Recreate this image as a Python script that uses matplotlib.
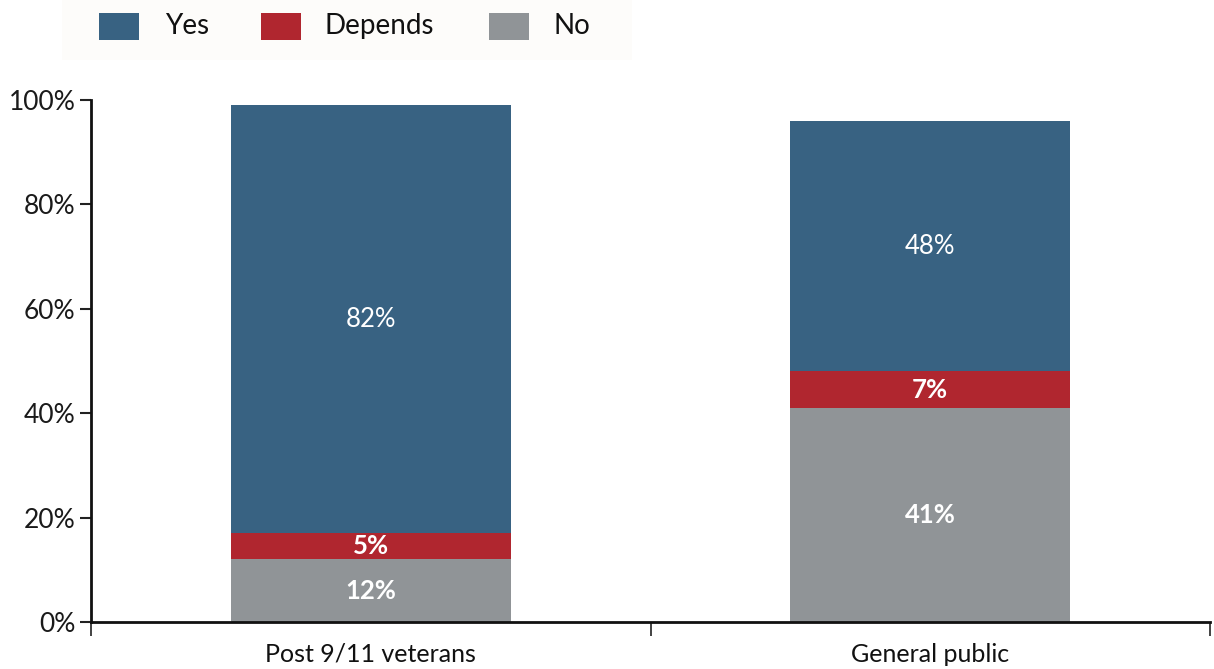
import matplotlib
matplotlib.use("Agg")
import matplotlib.pyplot as plt
from matplotlib.patches import Rectangle

categories = ["Post 9/11 veterans", "General public"]
series_names = ["No", "Depends", "Yes"]
no_vals = [12, 41]
depends_vals = [5, 7]
yes_vals = [82, 48]
colors = {"Yes": "#386282", "Depends": "#b0262f", "No": "#909497"}
ytick_vals = [0, 20, 40, 60, 80, 100]
ytick_labels = ["0%", "20%", "40%", "60%", "80%", "100%"]

plt.rcParams['font.family'] = ['Lato', 'DejaVu Sans']

W, H = 1214, 669
fig = plt.figure(figsize=(W / 100, H / 100), dpi=100)
ax = fig.add_axes([91 / W, (H - 622) / H, (1210 - 91) / W, (622 - 100) / H])

x = [0.5, 1.5]
width = 0.5
bottoms = [0, 0]
label_weights = {"No": "bold", "Depends": "bold", "Yes": "normal"}
for name, vals in [("No", no_vals), ("Depends", depends_vals), ("Yes", yes_vals)]:
    bars = ax.bar(x, vals, width, bottom=bottoms, color=colors[name], zorder=2)
    for xi, b, v in zip(x, bottoms, vals):
        ax.text(xi, b + v / 2, f"{v}%", ha="center", va="center", color="white",
                fontsize=18.5, fontweight=label_weights[name], zorder=3)
    bottoms = [b + v for b, v in zip(bottoms, vals)]

ax.set_xlim(0, 2)
ax.set_ylim(0, 100)
ax.set_yticks(ytick_vals)
ax.set_yticklabels(ytick_labels, fontsize=19, color="#1a1a1a")
ax.set_xticks([0, 1, 2])
ax.set_xticklabels([])
ax.set_xticks(x, minor=True)
ax.set_xticklabels(categories, minor=True, fontsize=18, color="#111111")
ax.tick_params(axis="x", which="minor", length=0, pad=15)
ax.tick_params(axis="x", which="major", length=10, width=1.2, color="#222222")
ax.tick_params(axis="y", length=8, width=1.5, color="#222222", pad=3)
for s in ["top", "right"]:
    ax.spines[s].set_visible(False)
for s in ["left", "bottom"]:
    ax.spines[s].set_linewidth(2)
    ax.spines[s].set_color("#111111")

# legend
fig.patches.append(Rectangle((62 / W, 1 - 60 / H), (632 - 62) / W, 60 / H,
                             transform=fig.transFigure, facecolor="#fdfcfa",
                             edgecolor="none", zorder=0))
leg_items = [("Yes", 99, 165), ("Depends", 261, 325), ("No", 489, 554)]
for name, px, tx in leg_items:
    fig.patches.append(Rectangle((px / W, 1 - 40 / H), 40 / W, 27 / H,
                                 transform=fig.transFigure, facecolor=colors[name],
                                 edgecolor="none", zorder=1))
    fig.text(tx / W, 1 - 26 / H, name, ha="left", va="center", fontsize=20,
             color="#111111")

fig.savefig("out.png", dpi=100)
